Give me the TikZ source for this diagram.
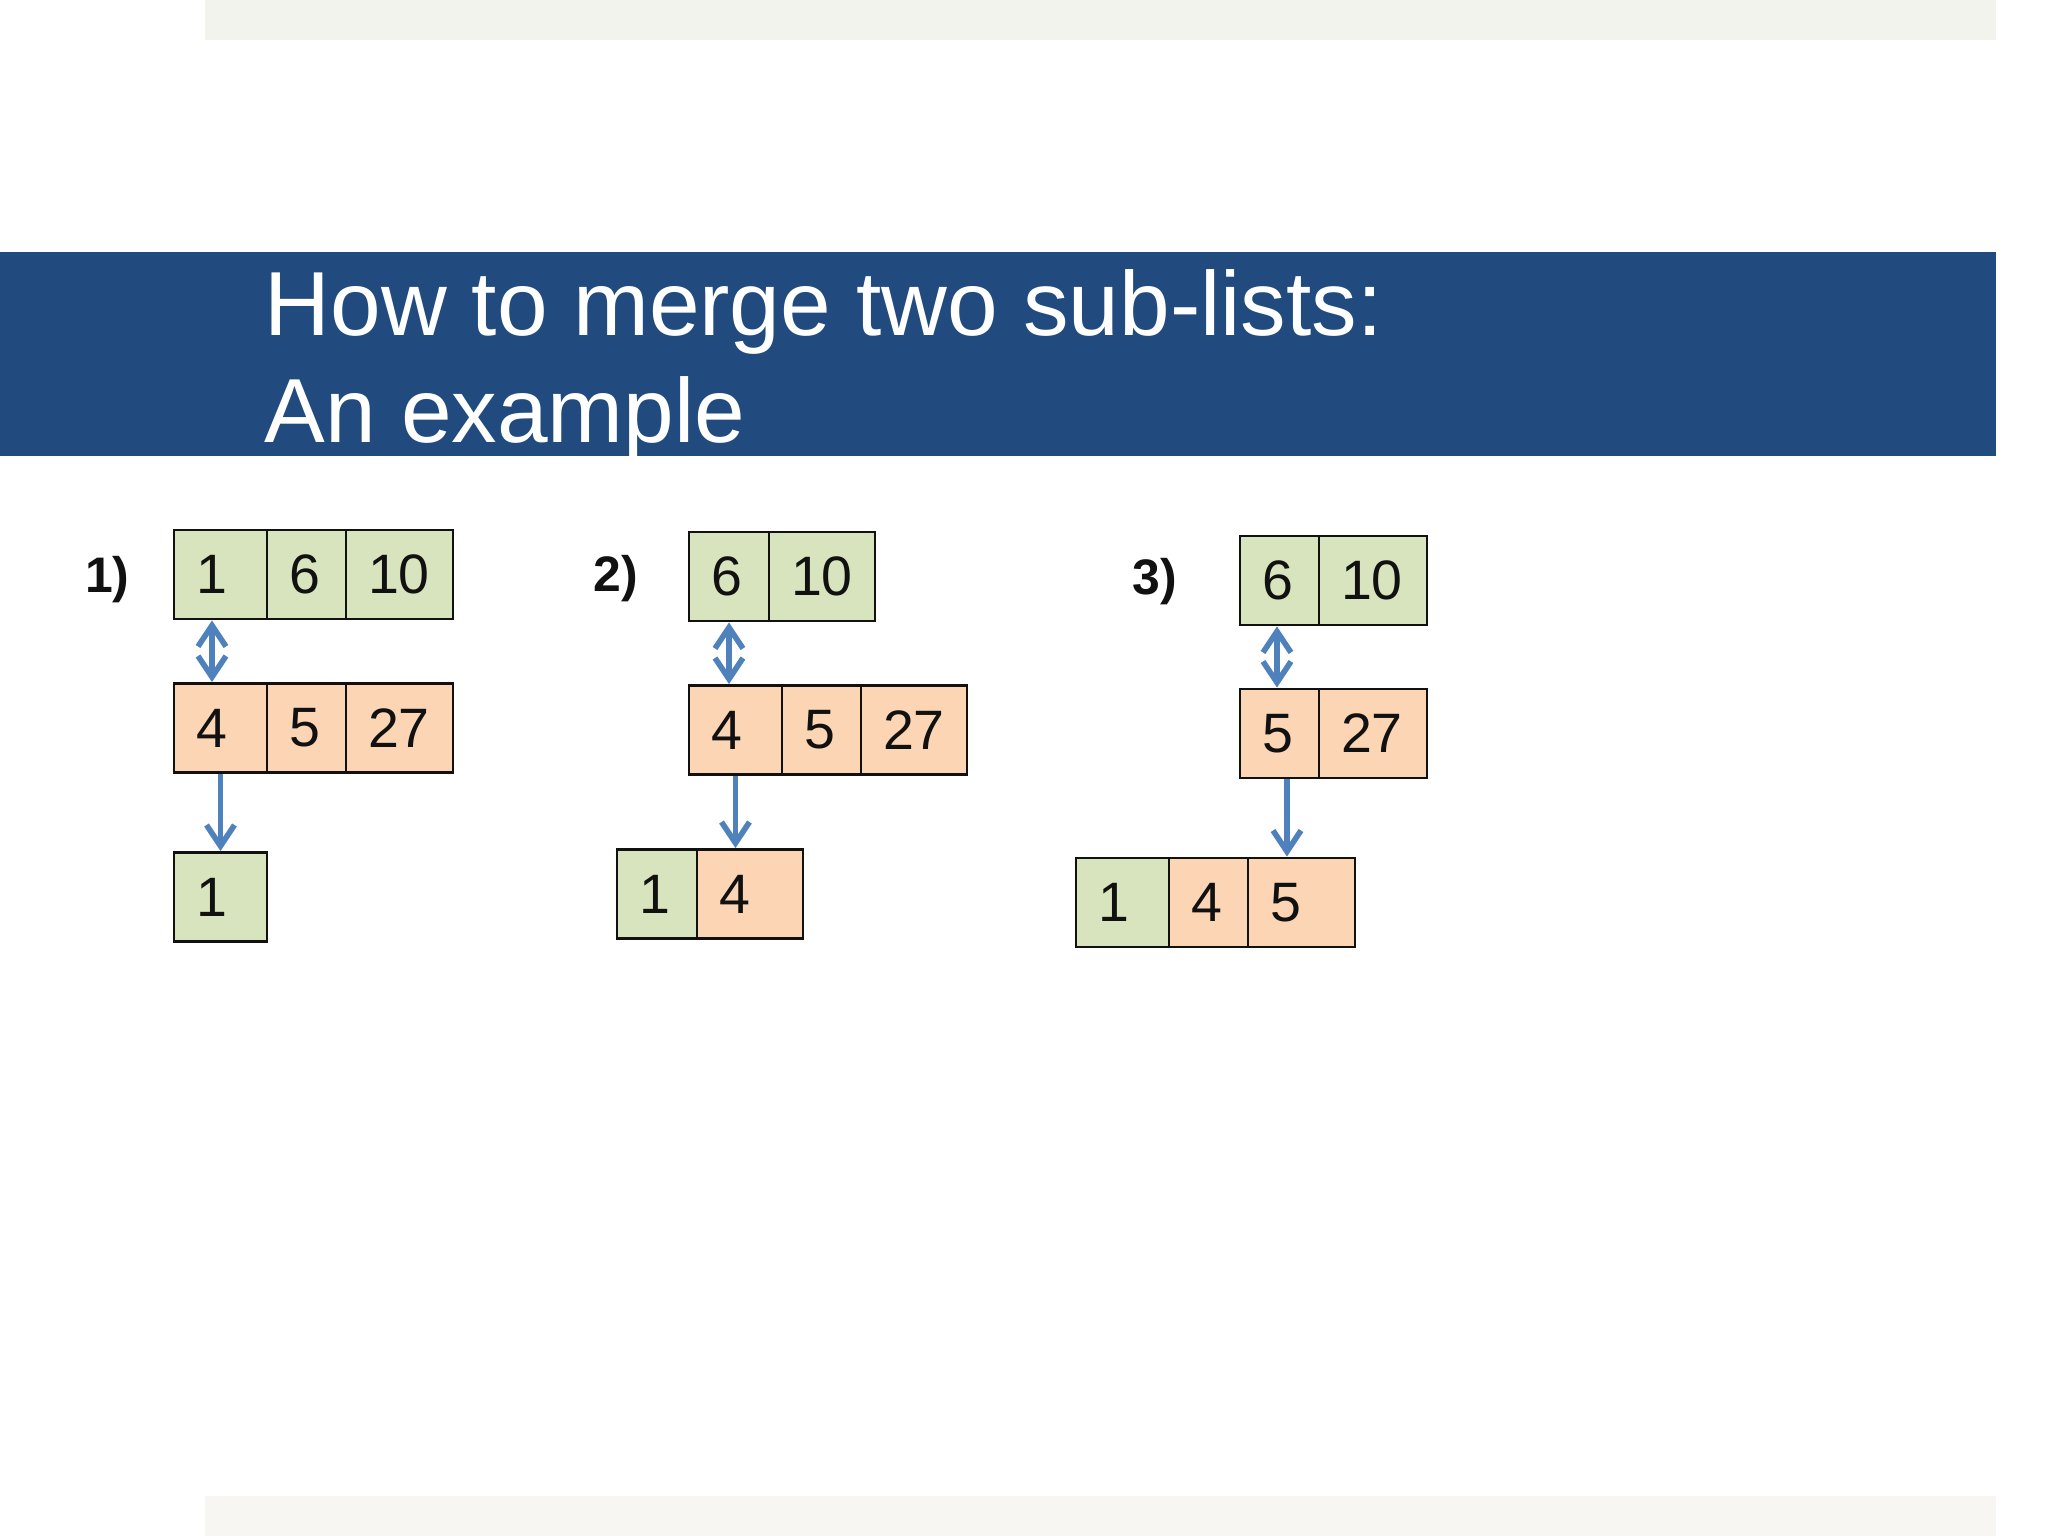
\documentclass[tikz,border=0pt]{standalone}
\usepackage{fontspec}
\setmainfont{Liberation Sans}
\usetikzlibrary{arrows.meta,positioning}
\usepackage{xcolor}
\definecolor{band}{HTML}{214A7E}
\definecolor{topstrip}{HTML}{F3F3EE}
\definecolor{botstrip}{HTML}{F7F6F3}
\definecolor{lgreen}{HTML}{D7E4BD}
\definecolor{lorange}{HTML}{FCD5B5}
\definecolor{arrowblue}{HTML}{4F81BD}
\definecolor{ink}{HTML}{111111}
\tikzset{
  every node/.style={text=ink},
  cell/.style={draw=ink,line width=0.8pt,minimum height=8.9mm,inner xsep=2.2mm,inner ysep=0pt,
    text width=#1*1cm-4.4mm,align=left,font=\fontsize{15.8}{18}\selectfont},
  gcell/.style={cell=#1,fill=lgreen},
  ocell/.style={cell=#1,fill=lorange},
  steplabel/.style={font=\fontsize{14.2}{17}\selectfont\bfseries,anchor=base west,inner sep=0pt},
  titletext/.style={font=\fontsize{25.9}{31}\selectfont,text=white,anchor=base west,inner sep=0pt},
  compare/.style={{Straight Barb[length=2.1mm,width=2.8mm]}-{Straight Barb[length=2.1mm,width=2.8mm]},line width=1.6pt,draw=arrowblue},
  move/.style={-{Straight Barb[length=2.1mm,width=2.8mm]},line width=1.6pt,draw=arrowblue},
}

\begin{document}
\begin{tikzpicture}[x=1cm,y=1cm]
  \useasboundingbox (0,0) rectangle (20.48,15.36);
  \fill[white] (0,0) rectangle (20.48,15.36);
  \fill[topstrip] (2.05,14.96) rectangle (19.96,15.36);
  \fill[botstrip] (2.05,0) rectangle (19.96,0.40);
  \fill[band] (0,10.80) rectangle (19.96,12.84);
  \node[titletext] (title1) at (2.64,12.00) {How to merge two sub-lists:};
  \node[titletext] (title2) at (2.64,10.93) {An example};

  % step 1
  \node[steplabel] (lab1) at (0.845,9.43) {1)};
  \node[gcell=0.93] (top1a) at (2.205,9.615) {1};
  \node[gcell=0.79] (top1b) at (3.065,9.615) {6};
  \node[gcell=1.07] (top1c) at (3.995,9.615) {10};
  \node[ocell=0.93] (mid1a) at (2.205,8.08) {4};
  \node[ocell=0.79] (mid1b) at (3.065,8.08) {5};
  \node[ocell=1.07] (mid1c) at (3.995,8.08) {27};
  \node[gcell=0.93] (res1a) at (2.205,6.39) {1};
  \draw[compare] ([xshift=-0.085cm]top1a.south) -- ([xshift=-0.085cm]mid1a.north);
  \draw[move] (mid1a.south) -- (res1a.north);

  % step 2
  \node[steplabel] (lab2) at (5.93,9.44) {2)};
  \node[gcell=0.80] (top2a) at (7.29,9.595) {6};
  \node[gcell=1.06] (top2b) at (8.22,9.595) {10};
  \node[ocell=0.93] (mid2a) at (7.355,8.06) {4};
  \node[ocell=0.79] (mid2b) at (8.215,8.06) {5};
  \node[ocell=1.06] (mid2c) at (9.14,8.06) {27};
  \node[gcell=0.80] (res2a) at (6.57,6.42) {1};
  \node[ocell=1.06] (res2b) at (7.50,6.42) {4};
  \draw[compare] (top2a.south) -- (top2a.south |- mid2a.north);
  \draw[move] (mid2a.south) -- (mid2a.south |- res2b.north);

  % step 3
  \node[steplabel] (lab3) at (11.32,9.41) {3)};
  \node[gcell=0.79] (top3a) at (12.795,9.555) {6};
  \node[gcell=1.08] (top3b) at (13.73,9.555) {10};
  \node[ocell=0.79] (mid3a) at (12.795,8.025) {5};
  \node[ocell=1.08] (mid3b) at (13.73,8.025) {27};
  \node[gcell=0.93] (res3a) at (11.225,6.335) {1};
  \node[ocell=0.79] (res3b) at (12.085,6.335) {4};
  \node[ocell=1.07] (res3c) at (13.015,6.335) {5};
  \draw[compare] ([xshift=-0.025cm]top3a.south) -- ([xshift=-0.025cm]mid3a.north);
  \draw[move] ([xshift=0.075cm]mid3a.south) -- ([xshift=0.075cm]mid3a.south |- res3c.north);
\end{tikzpicture}
\end{document}
